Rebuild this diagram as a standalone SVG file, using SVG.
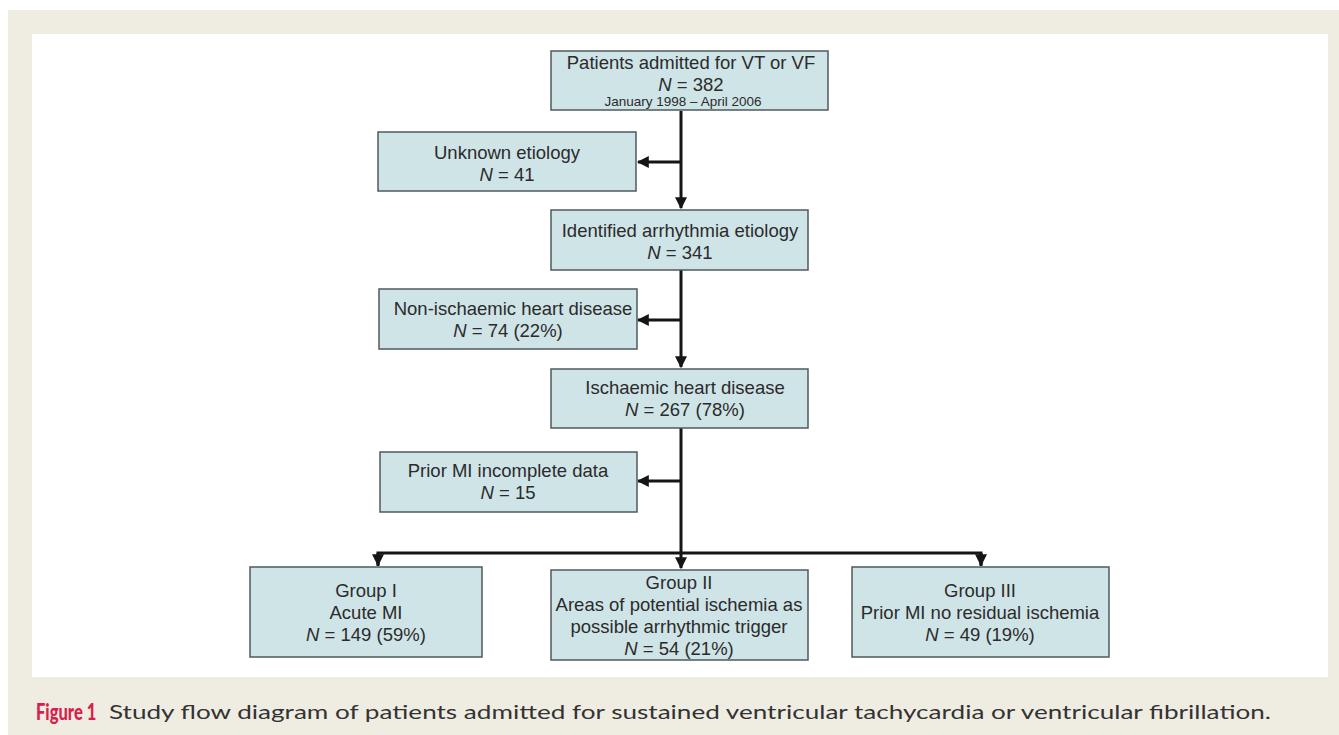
<svg xmlns="http://www.w3.org/2000/svg" width="1339" height="735" viewBox="0 0 1339 735">
<defs>
<style>
.box{fill:#cfe4e7;stroke:#4f5a5c;stroke-width:1.5}
.t{font-family:"Liberation Sans",Arial,sans-serif;font-size:18.5px;fill:#2b2b2b;text-anchor:middle}
.s{font-size:13.5px}
.c{stroke:#151515;stroke-width:3;fill:none}
.cap{font-family:Lato,"Open Sans",sans-serif;font-size:20px;fill:#333}
.fig{fill:#d81e4c;font-weight:900;font-size:23px}
</style>
<marker id="ah" viewBox="0 0 10 10" refX="9" refY="5" markerWidth="4" markerHeight="4" orient="auto" markerUnits="strokeWidth">
<path d="M0,0 L10,5 L0,10 z" fill="#151515"/>
</marker>
</defs>
<rect x="0" y="0" width="1339" height="735" fill="#ffffff"/>
<rect x="8" y="10" width="1331" height="725" fill="#efece2"/>
<rect x="32" y="34" width="1296" height="643" fill="#ffffff"/>

<g id="connectors">
<path class="c" d="M681,111 V208" marker-end="url(#ah)"/>
<path class="c" d="M681,162 H638" marker-end="url(#ah)"/>
<path class="c" d="M681,270 V367" marker-end="url(#ah)"/>
<path class="c" d="M681,320 H638" marker-end="url(#ah)"/>
<path class="c" d="M681,428 V568" marker-end="url(#ah)"/>
<path class="c" d="M681,481 H638" marker-end="url(#ah)"/>
<path class="c" d="M378,566 V553 H981 V566" />
<path class="c" d="M378,553 V565" marker-end="url(#ah)"/>
<path class="c" d="M981,553 V565" marker-end="url(#ah)"/>
</g>

<g id="n1">
<rect class="box" x="551" y="51" width="277" height="59"/>
<text class="t" x="691" y="69">Patients admitted for VT or VF</text>
<text class="t" x="691" y="91"><tspan font-style="italic">N</tspan> = 382</text>
<text class="t s" x="683" y="106">January 1998 – April 2006</text>
</g>
<g id="n2">
<rect class="box" x="378" y="132" width="258" height="59"/>
<text class="t" x="507" y="159">Unknown etiology</text>
<text class="t" x="507" y="181"><tspan font-style="italic">N</tspan> = 41</text>
</g>
<g id="n3">
<rect class="box" x="551" y="210" width="257" height="60"/>
<text class="t" x="680" y="237">Identified arrhythmia etiology</text>
<text class="t" x="680" y="259"><tspan font-style="italic">N</tspan> = 341</text>
</g>
<g id="n4">
<rect class="box" x="379" y="289" width="258" height="60"/>
<text class="t" x="513" y="315">Non-ischaemic heart disease</text>
<text class="t" x="508" y="337"><tspan font-style="italic">N</tspan> = 74 (22%)</text>
</g>
<g id="n5">
<rect class="box" x="551" y="369" width="257" height="59"/>
<text class="t" x="685" y="394">Ischaemic heart disease</text>
<text class="t" x="685" y="416"><tspan font-style="italic">N</tspan> = 267 (78%)</text>
</g>
<g id="n6">
<rect class="box" x="380" y="452" width="257" height="60"/>
<text class="t" x="508" y="477">Prior MI incomplete data</text>
<text class="t" x="508" y="499"><tspan font-style="italic">N</tspan> = 15</text>
</g>
<g id="n7">
<rect class="box" x="250" y="567" width="232" height="90"/>
<text class="t" x="366" y="597">Group I</text>
<text class="t" x="366" y="619">Acute MI</text>
<text class="t" x="366" y="641"><tspan font-style="italic">N</tspan> = 149 (59%)</text>
</g>
<g id="n8">
<rect class="box" x="551" y="570" width="257" height="90"/>
<text class="t" x="679" y="589">Group II</text>
<text class="t" x="679" y="611">Areas of potential ischemia as</text>
<text class="t" x="679" y="633">possible arrhythmic trigger</text>
<text class="t" x="679" y="655"><tspan font-style="italic">N</tspan> = 54 (21%)</text>
</g>
<g id="n9">
<rect class="box" x="852" y="567" width="257" height="90"/>
<text class="t" x="980" y="597">Group III</text>
<text class="t" x="980" y="619">Prior MI no residual ischemia</text>
<text class="t" x="980" y="641"><tspan font-style="italic">N</tspan> = 49 (19%)</text>
</g>

<g id="caption">
<text class="cap fig" transform="translate(36,720) scale(0.72,1)">Figure 1</text>
<text class="cap" x="109" y="719" textLength="1162" lengthAdjust="spacingAndGlyphs">Study flow diagram of patients admitted for sustained ventricular tachycardia or ventricular fibrillation.</text>
</g>
</svg>
